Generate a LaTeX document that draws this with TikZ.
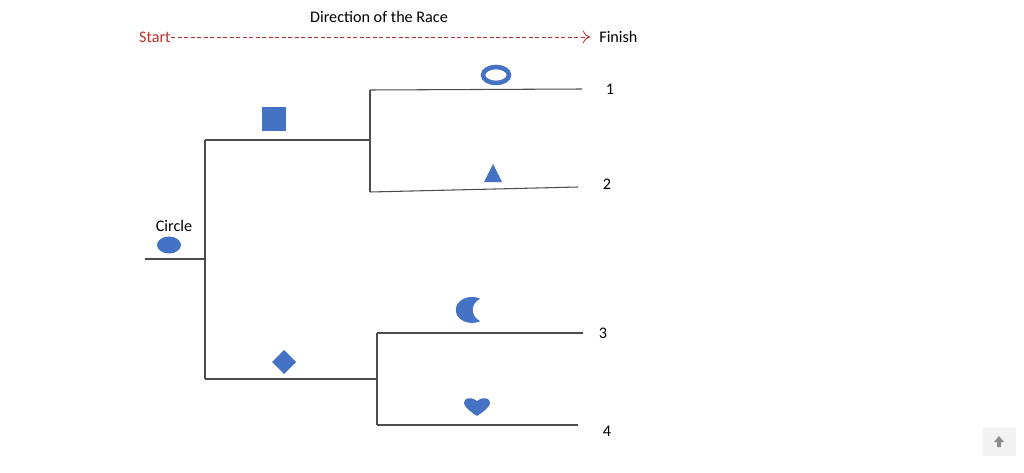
\documentclass[tikz,border=0pt]{standalone}
\usepackage{fontspec}
\setmainfont{Carlito}
\usetikzlibrary{arrows.meta}
\definecolor{shp}{HTML}{4472C4}
\definecolor{racered}{HTML}{B8302A}
\begin{document}
\begin{tikzpicture}[x=0.02cm,y=-0.02cm,
  br/.style={draw=black!70,line width=0.6pt},
  lbl/.style={font=\fontsize{9.2}{11}\selectfont,inner sep=0pt},
  fl/.style={fill=shp,draw=none}]
\useasboundingbox (0,0) rectangle (1024,473);
\node[lbl] (title) at (379,17) {Direction of the Race};
\node[lbl,text=racered,anchor=east] (start) at (171,37) {Start};
\node[lbl,anchor=west] (finish) at (599,37) {Finish};
\coordinate (tip) at (590,37);
\draw[racered,dashed,dash pattern=on 2.5pt off 1.2pt,line width=0.5pt,-{To[length=4pt,width=7pt]}] (start.east) -- (tip);
% tree
\coordinate (r0) at (145,259);
\coordinate (r1) at (205,259);
\coordinate (a) at (205,140); \coordinate (b) at (205,379);
\coordinate (a1) at (370,140); \coordinate (b1) at (377,379);
\coordinate (a2) at (370,90); \coordinate (a3) at (370,192);
\coordinate (b2) at (377,333); \coordinate (b3) at (377,425);
\node[lbl] (n1) at (610,89) {1};
\node[lbl] (n2) at (607,184) {2};
\node[lbl] (n3) at (603,333) {3};
\node[lbl] (n4) at (607,431) {4};
\coordinate (e1) at (582,89); \coordinate (e2) at (578,187);
\coordinate (e3) at (583,333); \coordinate (e4) at (578,425);
\draw[br] (r0) -- (r1);
\draw[br] (a) -- (b);
\draw[br] (a) -- (a1); \draw[br] (b) -- (b1);
\draw[br] (a2) -- (a3); \draw[br] (b2) -- (b3);
\draw[br] (a2) -- (e1); \draw[br] (a3) -- (e2);
\draw[br] (b2) -- (e3); \draw[br] (b3) -- (e4);
% labels & shapes
\node[lbl] (circ) at (174,226) {Circle};
\fill[fl] (169,245) ellipse [x radius=0.24cm, y radius=0.17cm];
\fill[fl] (262,107) rectangle (286,131);
\draw[shp,line width=2.6pt] (496,75) ellipse [x radius=0.26cm, y radius=0.16cm];
\fill[fl] (484,182) -- (502,182) -- (493,164) -- cycle;
\fill[fl] (284,350) -- (296,362) -- (284,374) -- (272,362) -- cycle;
\begin{scope}[shift={(472,310)},xscale=1.25]
\fill[fl] (6.5,-11.3) arc[start angle=60,end angle=300,radius=0.26cm]
   arc[start angle=236,end angle=124,radius=0.272cm] -- cycle;
\end{scope}
\fill[fl] (477,416) .. controls (468,410) and (464,406) .. (464,403)
  .. controls (464,398) and (470,396) .. (477,401)
  .. controls (484,396) and (490,398) .. (490,403)
  .. controls (490,406) and (486,410) .. (477,416) -- cycle;
% corner button
\fill[black!5] (983,427) rectangle (1016,456);
\fill[black!45] (999,436) -- (1004,442) -- (1001,442) -- (1001,447) -- (997,447) -- (997,442) -- (994,442) -- cycle;
\end{tikzpicture}
\end{document}
